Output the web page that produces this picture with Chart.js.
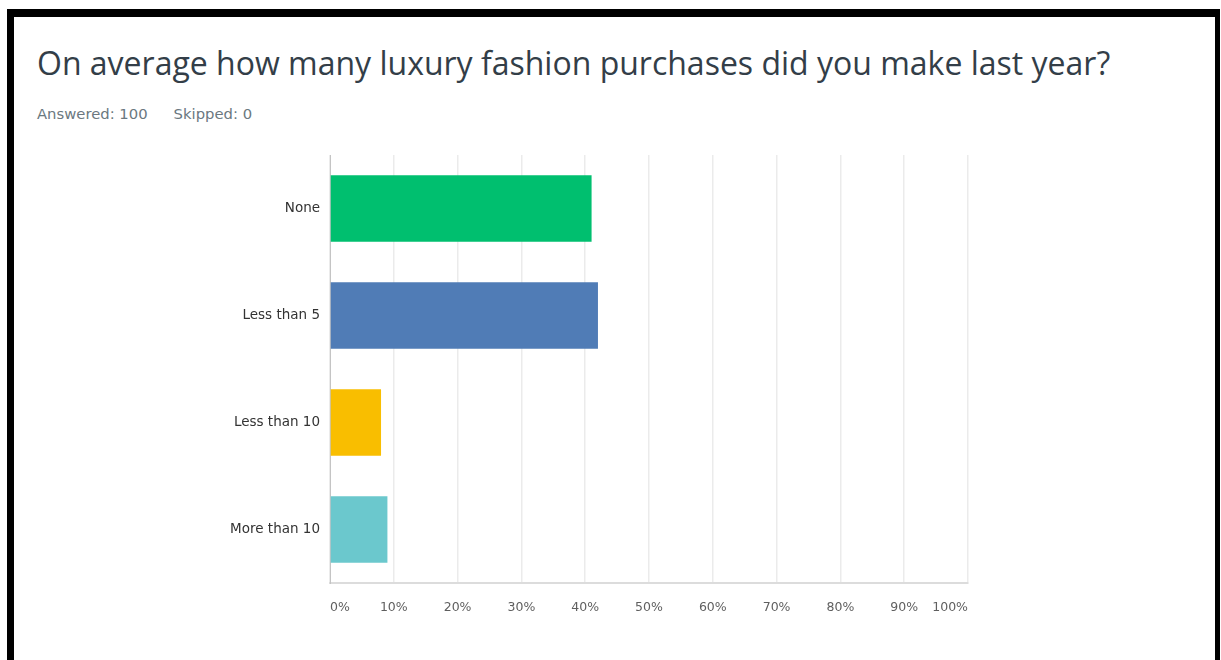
<!DOCTYPE html>
<html>
<head>
<meta charset="utf-8">
<script src="https://cdn.jsdelivr.net/npm/chart.js@4"></script>
<style>
  html, body { margin:0; padding:0; background:#ffffff; width:1221px; height:660px; overflow:hidden; }
  #frame { position:absolute; left:7px; top:9px; width:1201px; height:660px;
           border-style:solid; border-color:#000; border-width:8px 5px 8px 7px; box-sizing:content-box; }
  #title { position:absolute; left:37px; top:41px; font-family:"Open Sans", sans-serif; font-size:32px;
           color:#333e48; white-space:nowrap; }
  #meta { position:absolute; left:37px; top:105px; font-family:"DejaVu Sans", sans-serif; font-size:14.8px;
          color:#6b787f; white-space:nowrap; }
  #meta span + span { margin-left:26px; }
  #wrap { position:absolute; left:0; top:0; width:1221px; height:660px; }
</style>
</head>
<body>
<div id="frame"></div>
<div id="title">On average how many luxury fashion purchases did you make last year?</div>
<div id="meta"><span>Answered: 100</span><span>Skipped: 0</span></div>
<div id="wrap"><canvas id="c" width="1221" height="660"></canvas></div>
<script>
const categories = ['None', 'Less than 5', 'Less than 10', 'More than 10'];
const percentValues = [41, 42, 8, 9];
const tickLabels = ['0%', '10%', '20%', '30%', '40%', '50%', '60%', '70%', '80%', '90%', '100%'];
const barColors = ['#00bf6f', '#507cb6', '#f9be00', '#6bc8cd'];

new Chart(document.getElementById('c'), {
  type: 'bar',
  data: {
    labels: categories,
    datasets: [{
      data: percentValues,
      backgroundColor: barColors,
      borderWidth: 0,
      categoryPercentage: 1,
      barPercentage: 0.62
    }]
  },
  options: {
    indexAxis: 'y',
    responsive: false,
    animation: false,
    events: [],
    layout: { padding: { left: 0, right: 253, top: 155, bottom: 0 } },
    plugins: { legend: { display: false }, tooltip: { enabled: false }, title: { display: false } },
    scales: {
      x: {
        min: 0, max: 100,
        afterFit: s => { s.height = 77; },
        grid: { color: '#ebebeb', lineWidth: 1.5, drawTicks: false },
        border: { display: true, color: '#dcdcdc', width: 2 },
        ticks: {
          stepSize: 10,
          align: 'inner',
          padding: 17,
          color: '#5f5f5f',
          font: { family: 'DejaVu Sans', size: 12.5 },
          callback: (v, i) => tickLabels[i]
        }
      },
      y: {
        afterFit: s => { s.width = 330; },
        grid: { display: false, drawTicks: false },
        border: { display: true, color: '#c4c4c4', width: 1 },
        ticks: {
          padding: 10,
          color: '#333333',
          font: { family: 'DejaVu Sans', size: 13.5 }
        }
      }
    }
  }
});
</script>
</body>
</html>
